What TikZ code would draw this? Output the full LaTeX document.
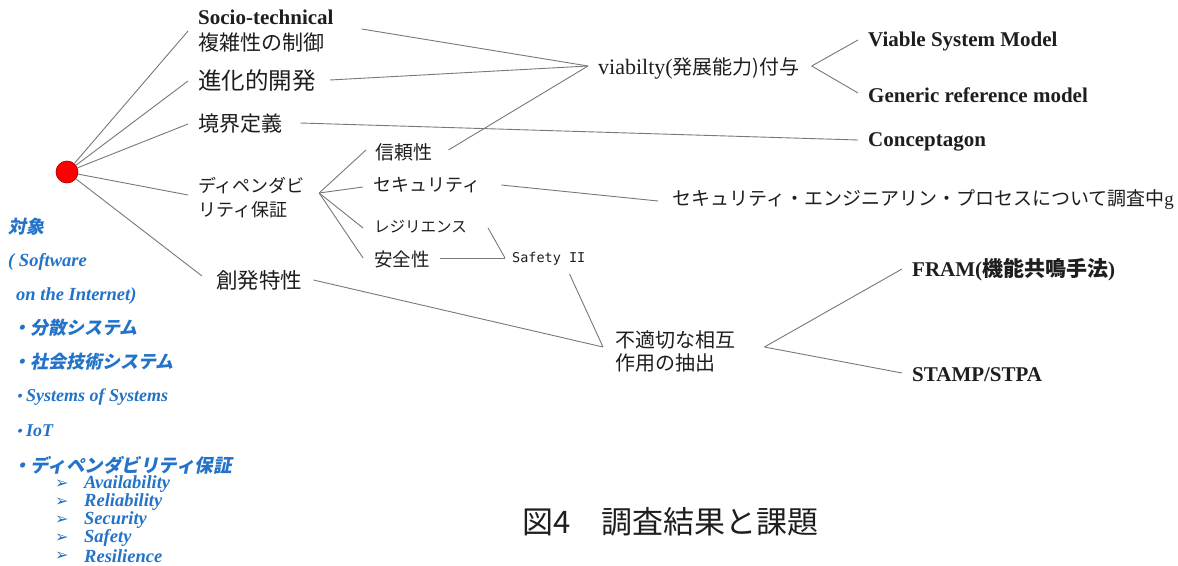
\documentclass[tikz,border=0pt]{standalone}
\usepackage{fontspec}
\usetikzlibrary{calc}
\setmainfont{Liberation Serif}
\newfontfamily\cjk{Noto Sans CJK JP}
\newfontfamily\cjkit[FakeSlant=0.2]{Noto Sans CJK JP}
\newfontfamily\symf{DejaVu Sans}
\newfontfamily\pixf{DejaVu Sans Mono}
\newcommand\fsz[1]{\fontsize{#1}{#1}\selectfont}
\definecolor{lnc}{RGB}{120,120,120}
\definecolor{txc}{RGB}{30,30,30}
\definecolor{blu}{RGB}{35,115,200}
\tikzset{
  lbl/.style={anchor=west,inner sep=0pt,text=txc},
  blue/.style={anchor=west,inner sep=0pt,text=blu,font=\bfseries\itshape},
  conn/.style={draw=lnc,line width=0.9pt},
}
\begin{document}
\begin{tikzpicture}[x=1pt,y=-1pt]
\useasboundingbox (0,0) rectangle (1178,565);
\fill[white] (0,0) rectangle (1178,565);

% root
\node[circle,fill=red,draw=red!60!black,line width=0.6pt,minimum size=22pt,inner sep=0pt] (root) at (67,172) {};

% first level
\node[lbl,align=left,font=\fontsize{21}{26}\selectfont] (soc) at (198,31) {{\bfseries Socio-technical}\\{\cjk 複雑性の制御}};
\node[lbl] (evo) at (198,81) {\cjk\fsz{23.5}進化的開発};
\node[lbl] (bnd) at (198,124) {\cjk\fsz{21}境界定義};
\node[lbl,align=left,font=\cjk\fontsize{18}{24}\selectfont] (dep) at (198,198) {ディペンダビ\\リティ保証};
\node[lbl] (emg) at (216,280) {\cjk\fsz{21.5}創発特性};

% second level
\node[lbl] (rel) at (375,152) {\cjk\fsz{19}信頼性};
\node[lbl] (sec) at (373,185) {\cjk\fsz{18}セキュリティ};
\node[lbl] (res) at (374,227) {\cjk\fsz{15.5}レジリエンス};
\node[lbl] (saf) at (374,259) {\cjk\fsz{18.5}安全性};
\node[lbl] (s2) at (512,259) {\pixf\fsz{13.5}Safety II};

\node[lbl] (via) at (598,68) {\fsz{22}viabilty(\cjk\fsz{20}発展能力)付与};
\node[lbl] (vsm) at (868,41) {\fsz{21}\bfseries Viable System Model};
\node[lbl] (grm) at (868,95) {\fsz{21}\bfseries Generic reference model};
\node[lbl] (con) at (868,142) {\fsz{21}\bfseries Conceptagon};
\node[lbl] (sep) at (672,200) {\cjk\fsz{19}セキュリティ・エンジニアリン・プロセスについて調査中{\rmfamily g}};
\node[lbl,align=left,font=\cjk\fontsize{20}{23}\selectfont] (inap) at (615,351) {不適切な相互\\作用の抽出};
\node[lbl] (fram) at (912,270) {\fsz{21}\bfseries FRAM({\cjk\fsz{21}機能共鳴手法})};
\node[lbl] (stamp) at (912,375) {\fsz{21}\bfseries STAMP/STPA};

\node[lbl] (cap) at (522,522) {\cjk\fsz{31}図4　調査結果と課題};

% connectors from root
\draw[conn] (root) -- ($(soc.west)+(-10,0)$);
\draw[conn] (root) -- ($(evo.west)+(-10,0)$);
\draw[conn] (root) -- ($(bnd.west)+(-10,0)$);
\draw[conn] (root) -- ($(dep.west)+(-10,-3)$);
\draw[conn] (root) -- ($(emg.west)+(-14,-4)$);

% to viability
\draw[conn] ($(soc.east)+(28,-2)$) -- ($(via.west)+(-10,-2)$);
\draw[conn] ($(evo.east)+(14,-1)$) -- ($(via.west)+(-10,-2)$);
\draw[conn] ($(rel.east)+(16,-2)$) -- ($(via.west)+(-10,-2)$);
\draw[conn] ($(bnd.east)+(18,-1)$) -- ($(con.west)+(-10,-2)$);
\draw[conn] ($(via.east)+(12,-2)$) -- ($(vsm.west)+(-10,-1)$);
\draw[conn] ($(via.east)+(12,-2)$) -- ($(grm.west)+(-10,-2)$);

% dependability branches
\coordinate (dj) at ($(dep.east)+(14,-5)$);
\draw[conn] (dj) -- ($(rel.west)+(-9,-2)$);
\draw[conn] (dj) -- ($(sec.west)+(-10,2)$);
\draw[conn] (dj) -- ($(res.west)+(-11,1)$);
\draw[conn] (dj) -- ($(saf.west)+(-11,-1)$);
\draw[conn] ($(sec.east)+(21,0)$) -- ($(sep.west)+(-14,1)$);
\draw[conn] ($(res.east)+(21,1)$) -- ($(s2.west)+(-7,-1)$);
\draw[conn] ($(saf.east)+(10,-1)$) -- ($(s2.west)+(-7,-1)$);
\draw[conn] ($(s2.east)+(-16,15)$) -- ($(inap.west)+(-12,-4)$);
\draw[conn] ($(emg.east)+(11,0)$) -- ($(inap.west)+(-12,-4)$);
\draw[conn] ($(inap.east)+(29,-4)$) -- ($(fram.west)+(-10,-1)$);
\draw[conn] ($(inap.east)+(29,-4)$) -- ($(stamp.west)+(-10,-2)$);

% blue list
\node[blue] (b1) at (8,227) {\cjkit\fsz{18}対象};
\node[blue] (b2) at (8,262) {\fsz{18.5}( Software};
\node[blue] (b3) at (16,296) {\fsz{18.5}on the Internet)};
\node[blue] (b4) at (12,328) {\cjkit\fsz{18}・分散システム};
\node[blue] (b5) at (12,362) {\cjkit\fsz{18}・社会技術システム};
\node[blue] (b6) at (12,397) {{\cjkit\fsz{14}・}\fsz{18}Systems of Systems};
\node[blue] (b7) at (12,431) {{\cjkit\fsz{14}・}\fsz{18}IoT};
\node[blue] (b8) at (12,465) {\cjkit\fsz{18.5}・ディペンダビリティ保証};
\foreach \t/\yy/\n in {Availability/484/1,Reliability/502/2,Security/520/3,Safety/538/4,Resilience/556/5}{
  \node[blue,font=\normalfont] (ar\n) at (55,\yy) {\symf\fsz{16}➢};
  \node[blue] (it\n) at (84,\yy) {\fsz{18.5}\t};
}
\end{tikzpicture}
\end{document}
